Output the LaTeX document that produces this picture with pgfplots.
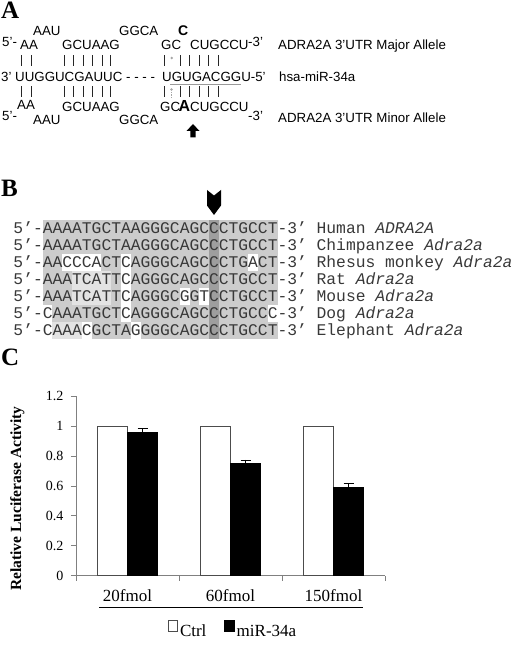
\documentclass[border=0pt]{standalone}
\usepackage{fontspec}
\setmainfont{Liberation Serif}
\newfontfamily\arial{Liberation Sans}
\newfontfamily\cour{Liberation Mono}
\usepackage{pgfplots}
\pgfplotsset{compat=1.18}
\definecolor{shadeA}{gray}{0.80}
\definecolor{shadeD}{gray}{0.62}
\definecolor{shadeL}{gray}{0.89}
\definecolor{seqtext}{gray}{0.22}
\definecolor{axgray}{gray}{0.5}
\begin{document}
\begin{tikzpicture}
\useasboundingbox (0,0) rectangle (528bp,652bp);
\begin{scope}[x=1bp,y=-1bp,shift={(0,652bp)}]
% panel labels
\tikzset{plab/.style={anchor=base west,inner sep=0,font=\bfseries\fontsize{25bp}{25bp}\selectfont}}
\node[plab] at (1,18.3) {A};
\node[plab] at (1,197) {B};
\node[plab] at (1,366) {C};
% ---------------- panel A
\tikzset{ta/.style={anchor=base west,inner sep=0,font=\arial\fontsize{13.3bp}{15bp}\selectfont}}
\node[ta] at (33,35.5) {AAU};
\node[ta] at (119,36) {GGCA};
\node[ta,font=\arial\bfseries\fontsize{14bp}{15bp}\selectfont] at (178,36) {C};
\node[ta] at (2,46.5) {5’-};
\node[ta] at (20,49.5) {AA};
\node[ta] at (62,49.5) {GCUAAG};
\node[ta] at (161,49.5) {GC};
\node[ta] at (190,49.5) {CUGCCU};
\node[ta] at (248,47) {-3’};
\node[ta] at (278,49.5) {ADRA2A 3’UTR Major Allele};
\node[ta] at (1,81.5) {3’ UUGGUCGAUUC};
\node[ta] at (126,81.5) {- - - -};
\node[ta] at (162,81.5) {UGUGACGGU-5’};
\node[ta] at (279,81.5) {hsa-miR-34a};
\node[ta] at (17,110) {AA};
\node[ta] at (62,111.5) {GCUAAG};
\node[ta] at (160,111.5) {GC};
\node[ta,font=\arial\bfseries\fontsize{16bp}{17bp}\selectfont] at (178.5,112) {A};
\node[ta] at (190,111.5) {CUGCCU};
\node[ta] at (2,120.5) {5’-};
\node[ta] at (33,125) {AAU};
\node[ta] at (119,125) {GGCA};
\node[ta] at (248,120.5) {-3’};
\node[ta] at (278,122.5) {ADRA2A 3’UTR Minor Allele};
% pairing bars
\foreach \x in {21.5,31,64,73.5,83,92.5,102,110.5,164,180,189.5,199,208.5,218}{
  \draw[line width=0.7bp,black!85] (\x,55.5) -- (\x,66.5);
  \draw[line width=0.7bp,black!85] (\x,86.5) -- (\x,97);
}
\fill[gray!70] (171.8,58) circle (1.4);
\fill[gray!70] (171.5,89.5) circle (1.3);
\draw[gray!70,line width=0.9bp,dash pattern=on 1.5bp off 1bp] (171.5,92) -- (171.5,97.5);
\draw[gray!80,line width=0.8bp] (170,84.5) -- (240.5,84.5);
% arrow
\fill[black] (186.5,131) -- (193,124) -- (199.5,131) -- (195.6,131) -- (195.6,137.5) -- (190.4,137.5) -- (190.4,131) -- cycle;
% ---------------- panel B
\fill[shadeA] (42.7,220) rectangle (277.7,339);
\foreach \r/\i in {2/2,2/3,2/4,2/5,2/8,2/21,3/8,4/8,4/14,4/16,5/0,5/8,5/23,6/0,6/4,6/9}{
  \fill[white] ({42.7+9.79*\i},{220+17*\r}) rectangle ++(9.79,17);
}
\foreach \r/\i in {3/3,3/4,3/5,3/6,4/3,4/4,4/5,4/6,6/1,6/2,6/3}{
  \fill[shadeL] ({42.7+9.79*\i},{220+17*\r}) rectangle ++(9.79,17);
}
\fill[shadeD] ({42.7+9.79*17},220) rectangle ++(9.79,119);
\fill[black] (207,190) -- (214,195.5) -- (221,190) -- (221,205.5) -- (214,215) -- (207,205.5) -- cycle;
\tikzset{tb/.style={anchor=base west,inner sep=0,text=seqtext,font=\cour\fontsize{16.3bp}{17bp}\selectfont}}
\node[tb] at (13.3,233.2) {5’-AAAATGCTAAGGGCAGCCCTGCCT-3’ Human \textit{ADRA2A}};
\node[tb] at (13.3,250.2) {5’-AAAATGCTAAGGGCAGCCCTGCCT-3’ Chimpanzee \textit{Adra2a}};
\node[tb] at (13.3,267.2) {5’-AACCCACTCAGGGCAGCCCTGACT-3’ Rhesus monkey \textit{Adra2a}};
\node[tb] at (13.3,284.2) {5’-AAATCATTCAGGGCAGCCCTGCCT-3’ Rat \textit{Adra2a}};
\node[tb] at (13.3,301.2) {5’-AAATCATTCAGGGCGGTCCTGCCT-3’ Mouse \textit{Adra2a}};
\node[tb] at (13.3,318.2) {5’-CAAATGCTCAGGGCAGCCCTGCCC-3’ Dog \textit{Adra2a}};
\node[tb] at (13.3,335.2) {5’-CAAACGCTAGGGGCAGCCCTGCCT-3’ Elephant \textit{Adra2a}};
\end{scope}
% ---------------- panel C
\begin{axis}[
  at={(76bp,76.3bp)}, anchor=south west,
  scale only axis, width=309bp, height=179.4bp,
  xmin=0, xmax=3, ymin=0, ymax=1.2,
  axis x line*=bottom, axis y line*=left,
  axis line style={axgray, line width=0.8bp},
  tick style={axgray, line width=0.8bp},
  tick align=outside, major tick length=5bp,
  /pgf/number format/assume math mode=true,
  ytick={0,0.2,0.4,0.6,0.8,1,1.2},
  yticklabel style={font=\fontsize{14bp}{15bp}\selectfont, xshift=-4bp},
  xtick={0,1,2}, xticklabels={20fmol,60fmol,150fmol},
  xticklabel style={font=\fontsize{17bp}{18bp}\selectfont, xshift=51.5bp, yshift=-5bp},
  extra x ticks={3}, extra x tick labels={},
  ylabel={Relative Luciferase Activity},
  ylabel style={at={(axis description cs:-0.19,0.43)}, anchor=center, font=\bfseries\fontsize{15.5bp}{16bp}\selectfont},
  ybar=0pt, bar width=30bp,
  clip=false,
  legend columns=2,
  legend style={at={(axis description cs:0.508,-0.305)}, anchor=center, draw=none, fill=none,
    font=\fontsize{17bp}{18bp}\selectfont,
    /tikz/every even column/.append style={column sep=16bp}},
  legend image code/.code={\draw[#1] (0bp,0bp) rectangle (9.5bp,11bp);},
]
\addplot[fill=white, draw=black!70, line width=0.8bp] coordinates {(0.5,1) (1.5,1) (2.5,1)};
\addplot[fill=black, draw=black, line width=0.8bp,
  error bars/.cd, y dir=plus, y explicit,
  error bar style={black, line width=0.8bp},
  error mark options={rotate=90, mark size=5bp, line width=0.8bp, black}]
  coordinates {(0.5,0.96) +- (0,0.022) (1.5,0.752) +- (0,0.022) (2.5,0.592) +- (0,0.026)};
\legend{Ctrl, miR-34a}
\draw[black, line width=0.8bp] ([yshift=-32bp]axis cs:0.2233,0) -- ([yshift=-32bp]axis cs:2.7835,0);
\end{axis}
\end{tikzpicture}
\end{document}
